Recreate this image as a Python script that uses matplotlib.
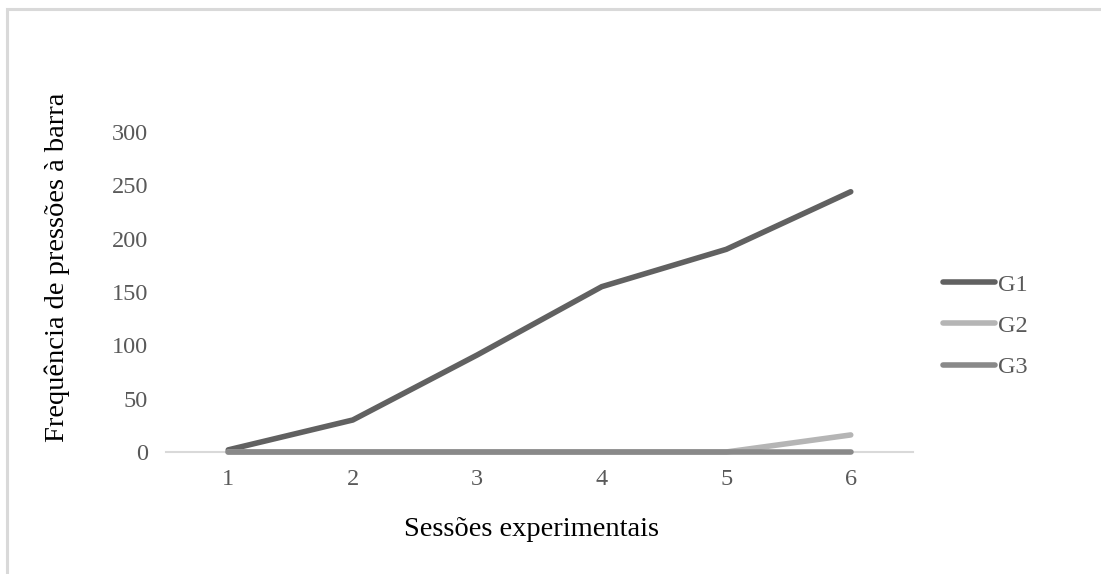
import matplotlib
matplotlib.use("Agg")
import matplotlib.pyplot as plt
from matplotlib.patches import Rectangle

sessions = [1, 2, 3, 4, 5, 6]
g1 = [2, 30, 91, 155, 190, 244]
g2 = [0, 0, 0, 0, 0, 16]
g3 = [0, 0, 0, 0, 0, 0]
series = [("G1", g1, "#616161"), ("G2", g2, "#b5b5b5"), ("G3", g3, "#898989")]
yticks = [0, 50, 100, 150, 200, 250, 300]

plt.rcParams['font.family'] = ['Liberation Serif', 'DejaVu Serif']

fig = plt.figure(figsize=(11.01, 5.74), dpi=100)
fig.patches.append(Rectangle((7/1101, -0.1), 1.2, (574-9)/574 + 0.1, transform=fig.transFigure,
                             fill=False, edgecolor="#d9d9d9", linewidth=2.2))

ax = fig.add_axes([166/1101, (574-452)/574, 747/1101, 320/574])
for name, vals, col in series:
    ax.plot(sessions, vals, color=col, linewidth=4.0, solid_capstyle='round',
            solid_joinstyle='round', label=name, clip_on=False, zorder=3)

ax.set_xlim(0.5, 6.5)
ax.set_ylim(0, 300)
ax.set_xticks(sessions)
ax.set_yticks(yticks)
for s in ['top', 'right', 'left']:
    ax.spines[s].set_visible(False)
ax.spines['bottom'].set_color("#d9d9d9")
ax.spines['bottom'].set_linewidth(1.5)
ax.spines['bottom'].set_zorder(1)
ax.tick_params(axis='both', length=0, labelsize=17.5, labelcolor="#595959")
ax.tick_params(axis='y', pad=13)
ax.tick_params(axis='x', pad=12)

fig.text(532/1101, 1 - 530/574, "Sessões experimentais", ha='center', va='center', fontsize=20.5)
fig.text(57/1101, 1 - 267/574, "Frequência de pressões à barra", ha='center', va='center',
         rotation=90, fontsize=20.5)

leg = fig.legend(loc='center left', bbox_to_anchor=(921/1101, 1 - 326/574), frameon=False,
                 fontsize=17.5, handlelength=2.15, handletextpad=0.1, labelspacing=0.8)
for t in leg.get_texts():
    t.set_color("#595959")

fig.savefig("out.png", dpi=100)
